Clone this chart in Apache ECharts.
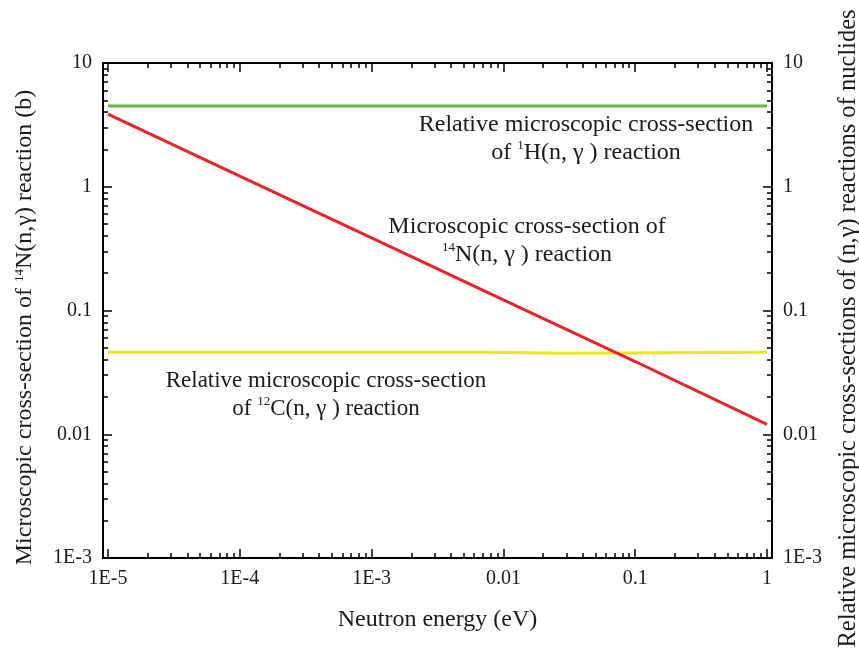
<!DOCTYPE html>
<html>
<head>
<meta charset="utf-8">
<script src="https://cdn.jsdelivr.net/npm/echarts@6/dist/echarts.min.js"></script>
<style>html,body{margin:0;padding:0;background:#fff}#c{width:859px;height:650px}</style>
</head>
<body>
<div id="c"></div>
<script>
// ---- data ----
const energyN = [1e-5, 1e-4, 1e-3, 0.01, 0.1, 1];
const sigmaN14 = [3.87, 1.22, 0.387, 0.122, 0.0387, 0.0120];
const energyH = [1e-5, 1];
const relH1 = [4.5, 4.5];
const energyC = [1e-5, 0.0076, 0.0076, 0.028, 0.028, 1];
const relC12 = [0.046, 0.046, 0.0452, 0.0452, 0.046, 0.046];

const xTickValues = [1e-5, 1e-4, 1e-3, 0.01, 0.1, 1];
const xTickLabels = ['1E-5', '1E-4', '1E-3', '0.01', '0.1', '1'];
const yTickValues = [1e-3, 0.01, 0.1, 1, 10];
const yTickLabels = ['1E-3', '0.01', '0.1', '1', '10'];

function minorTicks(majors) {
  const out = [];
  for (let i = 0; i < majors.length - 1; i++) {
    for (let m = 2; m <= 9; m++) out.push(Number((m * majors[i]).toPrecision(3)));
  }
  return out;
}
const xMinor = minorTicks(xTickValues);
const yMinor = minorTicks(yTickValues);

function labelFor(values, labels) {
  return function (v) {
    for (let i = 0; i < values.length; i++) {
      if (Math.abs(Math.log10(values[i]) - Math.log10(v)) < 1e-6) return labels[i];
    }
    return '';
  };
}
function pairs(xs, ys) { return xs.map((x, i) => [x, ys[i]]); }

const FONT = 'Liberation Serif';
const TXT = '#1a1a1a';
const X_MIN = 9.165e-6, X_MAX = 1.091;

function xAxisDef(pos, major) {
  return {
    type: 'log', logBase: 10, position: pos, min: X_MIN, max: X_MAX,
    axisLine: { show: major, onZero: false, lineStyle: { color: '#000', width: 2 } },
    axisTick: { show: true, inside: true, length: major ? 9 : 5, customValues: major ? xTickValues : xMinor,
                lineStyle: { color: '#000', width: 1.5 } },
    axisLabel: { show: major && pos === 'bottom', customValues: xTickValues, margin: 11,
                 formatter: labelFor(xTickValues, xTickLabels),
                 fontFamily: FONT, fontSize: 20, color: TXT },
    splitLine: { show: false }, minorTick: { show: false }, minorSplitLine: { show: false }
  };
}
function yAxisDef(pos, major) {
  return {
    type: 'log', logBase: 10, position: pos, min: 1e-3, max: 10,
    axisLine: { show: major, onZero: false, lineStyle: { color: '#000', width: 2 } },
    axisTick: { show: true, inside: true, length: major ? 9 : 5, customValues: major ? yTickValues : yMinor,
                lineStyle: { color: '#000', width: 1.5 } },
    axisLabel: { show: major, customValues: yTickValues, margin: 11,
                 formatter: labelFor(yTickValues, yTickLabels),
                 fontFamily: FONT, fontSize: 20, color: TXT },
    splitLine: { show: false }, minorTick: { show: false }, minorSplitLine: { show: false }
  };
}

const supStyle = { fontFamily: FONT, fontSize: 13, lineHeight: 14, verticalAlign: 'top', color: TXT };

const xa = [xAxisDef('bottom', true), xAxisDef('bottom', false), xAxisDef('top', true), xAxisDef('top', false)];
xa[0].name = 'Neutron energy (eV)';
xa[0].nameLocation = 'middle';
xa[0].nameGap = 50;
xa[0].nameTextStyle = { fontFamily: FONT, fontSize: 24, color: TXT };

const ya = [yAxisDef('left', true), yAxisDef('left', false), yAxisDef('right', true), yAxisDef('right', false)];
ya[0].name = 'Microscopic cross-section of {sup|14}N(n,\u03b3) reaction (b)';
ya[0].nameLocation = 'middle';
ya[0].nameRotate = 90;
ya[0].nameGap = 66;
ya[0].nameTextStyle = { fontFamily: FONT, fontSize: 24, color: TXT, padding: [0, 34, 0, 0],
                        rich: { sup: supStyle } };
ya[2].name = 'Relative microscopic cross-sections of (n,\u03b3) reactions of nuclides';
ya[2].nameLocation = 'middle';
ya[2].nameRotate = 90;
ya[2].nameGap = 64;
ya[2].nameTextStyle = { fontFamily: FONT, fontSize: 24.5, color: TXT, padding: [0, 36, 0, 0] };

function note(x, y, size, text) {
  return {
    type: 'text', x: x, y: y, silent: true,
    style: {
      text: text, fontFamily: FONT, fontSize: size, lineHeight: 28, fill: TXT,
      align: 'center', verticalAlign: 'middle',
      rich: { sup: { fontFamily: FONT, fontSize: 13, lineHeight: 14, verticalAlign: 'top', fill: TXT } }
    }
  };
}

const chart = echarts.init(document.getElementById('c'), null, { renderer: 'canvas' });
chart.setOption({
  animation: false,
  backgroundColor: '#fff',
  grid: { left: 103, right: 87, top: 63, bottom: 92, containLabel: false, outerBoundsMode: 'none' },
  xAxis: xa,
  yAxis: ya,
  series: [
    { type: 'line', name: 'H1', data: pairs(energyH, relH1), showSymbol: false, symbol: 'none',
      lineStyle: { color: '#62bb3c', width: 3 }, xAxisIndex: 0, yAxisIndex: 0 },
    { type: 'line', name: 'C12', data: pairs(energyC, relC12), showSymbol: false, symbol: 'none',
      lineStyle: { color: '#f0e41a', width: 3 }, xAxisIndex: 0, yAxisIndex: 0 },
    { type: 'line', name: 'N14', data: pairs(energyN, sigmaN14), showSymbol: false, symbol: 'none',
      lineStyle: { color: '#ec2227', width: 3 }, xAxisIndex: 0, yAxisIndex: 0 }
  ],
  graphic: [
    note(586, 139, 24, 'Relative microscopic cross-section\nof {sup|1}H(n, \u03b3 ) reaction'),
    note(527, 241, 24, 'Microscopic cross-section of\n{sup|14}N(n, \u03b3 ) reaction'),
    note(326, 395, 23, 'Relative microscopic cross-section\nof {sup|12}C(n, \u03b3 ) reaction')
  ]
});
</script>
</body>
</html>
